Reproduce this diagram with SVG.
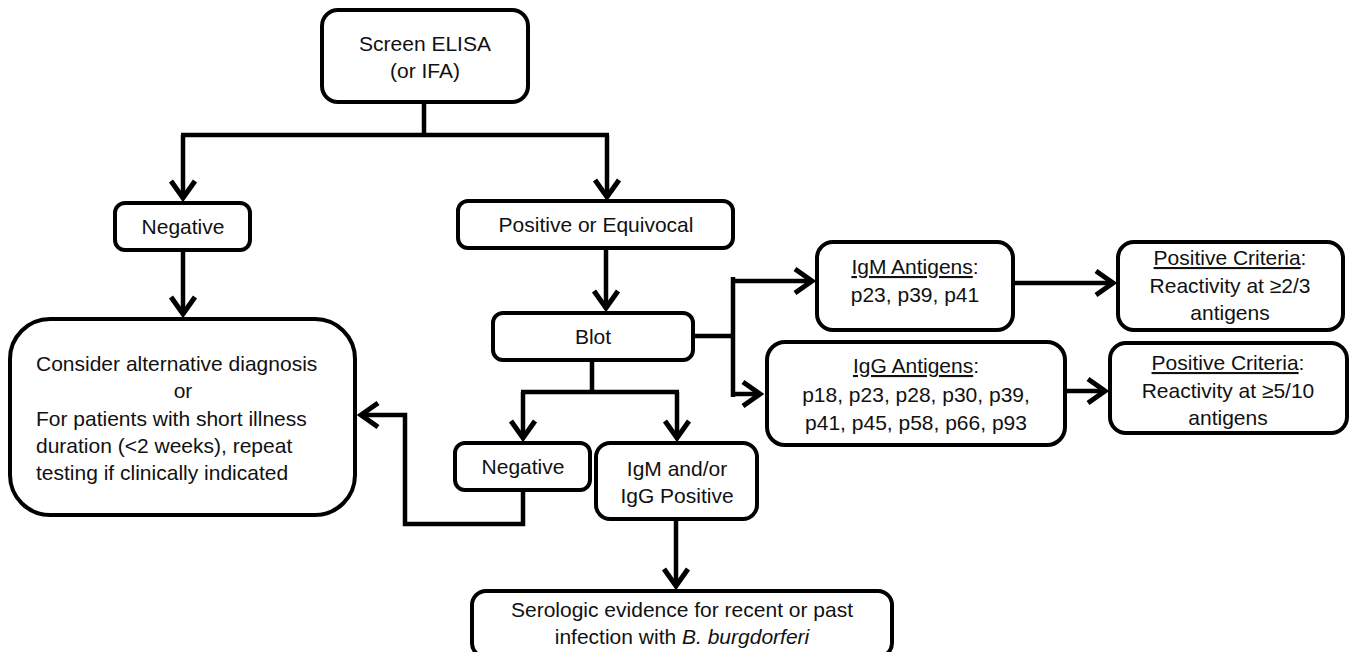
<svg xmlns="http://www.w3.org/2000/svg" width="1355" height="652" viewBox="0 0 1355 652">
<style>
.box{fill:#fff;stroke:#000;stroke-width:4}
.t{font-family:"Liberation Sans",Arial,sans-serif;font-size:21px;fill:#111;text-anchor:middle}
.l{text-anchor:start}
.c{fill:none;stroke:#000;stroke-width:4.5}
.u{text-decoration:underline}
</style>
<defs>
<marker id="ah" markerUnits="userSpaceOnUse" markerWidth="40" markerHeight="40" viewBox="-30 -20 40 40" refX="0" refY="0" orient="auto">
<path d="M-17 -12 L0 0 L-17 12" fill="none" stroke="#000" stroke-width="5"/>
</marker>
</defs>
<rect width="1355" height="652" fill="#fff"/>
<g id="connectors">
<path class="c" d="M424 102 V135 M181 135 H609"/>
<path class="c" d="M183 135 V198" marker-end="url(#ah)"/>
<path class="c" d="M607 135 V197" marker-end="url(#ah)"/>
<path class="c" d="M183 250 V314" marker-end="url(#ah)"/>
<path class="c" d="M606 248 V308" marker-end="url(#ah)"/>
<path class="c" d="M693 336 H733"/>
<path class="c" d="M733 277 V397"/>
<path class="c" d="M731 281 H812" marker-end="url(#ah)"/>
<path class="c" d="M731 394 H760" marker-end="url(#ah)"/>
<path class="c" d="M1013 283 H1113" marker-end="url(#ah)"/>
<path class="c" d="M1065 391 H1105" marker-end="url(#ah)"/>
<path class="c" d="M592 360 V392 M521 392 H679"/>
<path class="c" d="M523 392 V438" marker-end="url(#ah)"/>
<path class="c" d="M677 392 V438" marker-end="url(#ah)"/>
<path class="c" d="M523 490 V524 H405 V415 H361" marker-end="url(#ah)"/>
<path class="c" d="M676 520 V586" marker-end="url(#ah)"/>
</g>
<g id="screen">
<rect class="box" x="322" y="10" width="206" height="92" rx="16"/>
<text class="t" x="425" y="51">Screen ELISA</text>
<text class="t" x="425" y="78">(or IFA)</text>
</g>
<g id="negative1">
<rect class="box" x="115" y="203" width="135" height="47" rx="10"/>
<text class="t" x="183" y="234">Negative</text>
</g>
<g id="positive">
<rect class="box" x="458" y="201" width="275" height="47" rx="10"/>
<text class="t" x="596" y="232">Positive or Equivocal</text>
</g>
<g id="consider">
<rect class="box" x="10" y="319" width="345" height="196" rx="40"/>
<text class="t l" x="36" y="371">Consider alternative diagnosis</text>
<text class="t" x="183" y="398">or</text>
<text class="t l" x="36" y="426">For patients with short illness</text>
<text class="t l" x="36" y="453">duration (&lt;2 weeks), repeat</text>
<text class="t l" x="36" y="480">testing if clinically indicated</text>
</g>
<g id="blot">
<rect class="box" x="493" y="313" width="200" height="47" rx="10"/>
<text class="t" x="593" y="344">Blot</text>
</g>
<g id="negative2">
<rect class="box" x="455" y="443" width="135" height="47" rx="10"/>
<text class="t" x="523" y="474">Negative</text>
</g>
<g id="igmigg">
<rect class="box" x="596" y="443" width="161" height="76" rx="14"/>
<text class="t" x="677" y="476">IgM and/or</text>
<text class="t" x="677" y="503">IgG Positive</text>
</g>
<g id="serologic">
<rect class="box" x="472" y="591" width="420" height="66" rx="14"/>
<text class="t" x="682" y="617">Serologic evidence for recent or past</text>
<text class="t" x="682" y="644">infection with <tspan font-style="italic">B. burgdorferi</tspan></text>
</g>
<g id="igm-antigens">
<rect class="box" x="817" y="242" width="196" height="88" rx="16"/>
<text class="t" x="915" y="274"><tspan class="u">IgM Antigens</tspan>:</text>
<text class="t" x="915" y="302">p23, p39, p41</text>
</g>
<g id="igg-antigens">
<rect class="box" x="767" y="342" width="298" height="103" rx="18"/>
<text class="t" x="916" y="373"><tspan class="u">IgG Antigens</tspan>:</text>
<text class="t" x="916" y="402">p18, p23, p28, p30, p39,</text>
<text class="t" x="916" y="430">p41, p45, p58, p66, p93</text>
</g>
<g id="criteria-igm">
<rect class="box" x="1118" y="242" width="225" height="88" rx="16"/>
<text class="t" x="1230" y="265"><tspan class="u">Positive Criteria</tspan>:</text>
<text class="t" x="1230" y="293">Reactivity at ≥2/3</text>
<text class="t" x="1230" y="320">antigens</text>
</g>
<g id="criteria-igg">
<rect class="box" x="1110" y="343" width="237" height="90" rx="16"/>
<text class="t" x="1228" y="370"><tspan class="u">Positive Criteria</tspan>:</text>
<text class="t" x="1228" y="398">Reactivity at ≥5/10</text>
<text class="t" x="1228" y="425">antigens</text>
</g>
</svg>
